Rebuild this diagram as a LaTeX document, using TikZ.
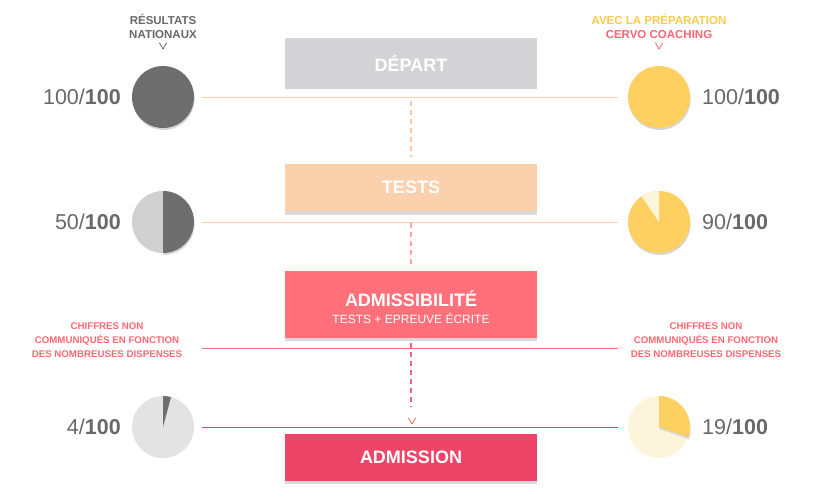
\documentclass[tikz,border=0pt]{standalone}
\usepackage{fontspec}
\setmainfont{Liberation Sans}
\definecolor{darkpie}{HTML}{6E6E6E}
\definecolor{midpie}{HTML}{D0D0D0}
\definecolor{lightpie}{HTML}{E3E3E3}
\definecolor{yel}{HTML}{FED061}
\definecolor{paleyel}{HTML}{FDF4DC}
\definecolor{pieshadow}{HTML}{D6D6D6}
\definecolor{departc}{HTML}{D3D3D5}
\definecolor{testsc}{HTML}{FBD0AC}
\definecolor{admic}{HTML}{FF707A}
\definecolor{admissc}{HTML}{EE4467}
\definecolor{boxshadow}{HTML}{D9D9D9}
\definecolor{txtgray}{HTML}{686868}
\definecolor{hdryel}{HTML}{FBC94C}
\definecolor{hdrpink}{HTML}{F46673}
\definecolor{notered}{HTML}{FF6872}
\definecolor{peach}{HTML}{FBCFAE}
\definecolor{dashpeach}{HTML}{FBC6A2}
\definecolor{dashpink}{HTML}{FBA9A0}
\definecolor{salmon}{HTML}{F56C78}
\definecolor{crimson}{HTML}{E0456A}
\definecolor{dashred}{HTML}{F0667C}
\definecolor{chevc}{HTML}{EE6A50}
\begin{document}
\begin{tikzpicture}[x=1pt,y=-1pt,
  box/.style={minimum width=252pt, inner sep=0pt, text=white, font=\bfseries\fontsize{18}{20}\selectfont},
  shadowbox/.style={fill=boxshadow, minimum width=252pt, inner sep=0pt},
  piebase/.style={circle, minimum size=62pt, inner sep=0pt},
  score/.style={inner sep=0pt, text=txtgray, font=\fontsize{21.5}{24}\selectfont},
  hdr/.style={inner sep=0pt, align=center, font=\bfseries\fontsize{11.5}{14}\selectfont},
  note/.style={inner sep=0pt, align=center, text=notered, font=\bfseries\fontsize{9.7}{14}\selectfont},
  hline/.style={line width=0.9pt},
  dashline/.style={line width=1.6pt, dash pattern=on 5pt off 4pt},
  chev/.style={line width=0.8pt, line cap=round, line join=round}
]
\useasboundingbox (0,0) rectangle (820,499);

% ---------- headers ----------
\node[hdr, text=txtgray] (hleft) at (163,26) {RÉSULTATS\\NATIONAUX};
\node[hdr] (hright) at (659,26) {\textcolor{hdryel}{AVEC LA PRÉPARATION}\\\textcolor{hdrpink}{CERVO COACHING}};
\coordinate (cvl) at (163,49);
\coordinate (cvr) at (659,49);
\draw[chev, txtgray] ([xshift=-3.5pt,yshift=6pt]cvl) -- (cvl) -- ([xshift=3.5pt,yshift=6pt]cvl);
\draw[chev, hdrpink] ([xshift=-3.5pt,yshift=6pt]cvr) -- (cvr) -- ([xshift=3.5pt,yshift=6pt]cvr);

% ---------- boxes ----------
\node[shadowbox, minimum height=47pt] (testsshadow) at (411,191.5) {};
\node[shadowbox, minimum height=67pt] (admishadow) at (411,307.5) {};
\node[shadowbox, minimum height=47pt] (admissshadow) at (411,460.5) {};
\node[box, fill=departc, minimum height=51pt] (depart) at (411,63.5) {DÉPART};
\node[box, fill=testsc, minimum height=47pt] (tests) at (411,187.5) {TESTS};
\node[box, fill=admic, minimum height=67pt] (admissibilite) at (411,304.5) {};
\node[inner sep=0pt, text=white, font=\bfseries\fontsize{18}{20}\selectfont] (admititle) at (411,298.5) {ADMISSIBILITÉ};
\node[inner sep=0pt, text=white, font=\fontsize{12}{14}\selectfont] (admisub) at (411,318) {TESTS + EPREUVE ÉCRITE};
\node[box, fill=admissc, minimum height=47pt] (admission) at (411,457.5) {ADMISSION};

% ---------- pies ----------
\node[piebase] (lp1) at (163,97) {};
\node[piebase] (lp2) at (163,222) {};
\node[piebase] (lp3) at (163,427) {};
\node[piebase] (rp1) at (659,97) {};
\node[piebase] (rp2) at (659,222) {};
\node[piebase] (rp3) at (659,427) {};

% left pie 1: 100%
\begin{scope}[shift={(lp1.center)}, y=1pt]
  \fill[pieshadow] (0.6pt,-2pt) circle[radius=31pt];
  \fill[darkpie] (0,0) circle[radius=31pt];
\end{scope}
% left pie 2: 50%
\begin{scope}[shift={(lp2.center)}, y=1pt]
  \fill[pieshadow] (0.6pt,-2pt) -- ++(90:31pt) arc[start angle=90, end angle=-90, radius=31pt] -- cycle;
  \fill[midpie] (0,0) circle[radius=31pt];
  \fill[darkpie] (0,0) -- (90:31pt) arc[start angle=90, end angle=-90, radius=31pt] -- cycle;
\end{scope}
% left pie 3: 4%
\begin{scope}[shift={(lp3.center)}, y=1pt]
  \fill[lightpie] (0,0) circle[radius=31pt];
  \fill[darkpie] (0,0) -- (90:31pt) arc[start angle=90, end angle=75, radius=31pt] -- cycle;
\end{scope}
% right pie 1: 100%
\begin{scope}[shift={(rp1.center)}, y=1pt]
  \fill[pieshadow] (0.6pt,-2pt) circle[radius=31pt];
  \fill[yel] (0,0) circle[radius=31pt];
\end{scope}
% right pie 2: 90%
\begin{scope}[shift={(rp2.center)}, y=1pt]
  \fill[pieshadow] (0.6pt,-2pt) circle[radius=31pt];
  \fill[yel] (0,0) circle[radius=31pt];
  \fill[paleyel] (0,0) -- (90:31pt) arc[start angle=90, end angle=124, radius=31pt] -- cycle;
\end{scope}
% right pie 3: 19%
\begin{scope}[shift={(rp3.center)}, y=1pt]
  \fill[paleyel] (0,0) circle[radius=31pt];
  \fill[pieshadow] (0.6pt,-2pt) -- ++(90:31pt) arc[start angle=90, end angle=-19, radius=31pt] -- cycle;
  \fill[yel] (0,0) -- (90:31pt) arc[start angle=90, end angle=-19, radius=31pt] -- cycle;
\end{scope}

% ---------- scores ----------
\node[score, anchor=east] (sl1) at (121,97) {100/\textbf{100}};
\node[score, anchor=east] (sl2) at (121,222) {50/\textbf{100}};
\node[score, anchor=east] (sl3) at (121,427) {4/\textbf{100}};
\node[score, anchor=west] (sr1) at (702,97) {100/\textbf{100}};
\node[score, anchor=west] (sr2) at (702,222) {90/\textbf{100}};
\node[score, anchor=west] (sr3) at (702,427) {19/\textbf{100}};

% ---------- notes ----------
\node[note] (notel) at (107,340) {CHIFFRES NON\\COMMUNIQUÉS EN FONCTION\\DES NOMBREUSES DISPENSES};
\node[note] (noter) at (706,340) {CHIFFRES NON\\COMMUNIQUÉS EN FONCTION\\DES NOMBREUSES DISPENSES};

% ---------- horizontal lines ----------
\coordinate (l3a) at (202,348);
\coordinate (l3b) at (618,348);
\draw[hline, peach] ([xshift=8pt]lp1.east) -- ([xshift=-10pt]rp1.west);
\draw[hline, peach] ([xshift=8pt]lp2.east) -- ([xshift=-10pt]rp2.west);
\draw[hline, salmon] (l3a) -- (l3b);
\draw[hline, crimson] ([xshift=8pt]lp3.east) -- ([xshift=-10pt]rp3.west);

% ---------- dashed connectors ----------
\draw[dashline, dashpeach] ([yshift=-12pt]depart.south) -- ([yshift=7pt]tests.north);
\draw[dashline, dashpink] ([yshift=-12pt]tests.south) -- ([yshift=4pt]admissibilite.north);
\draw[dashline, dashred] ([yshift=-5pt]admissibilite.south) -- ([yshift=27pt]admission.north);
\coordinate (chevtip) at (412,424);
\draw[chev, chevc] ([xshift=-3.5pt,yshift=6pt]chevtip) -- (chevtip) -- ([xshift=3.5pt,yshift=6pt]chevtip);
\end{tikzpicture}
\end{document}
